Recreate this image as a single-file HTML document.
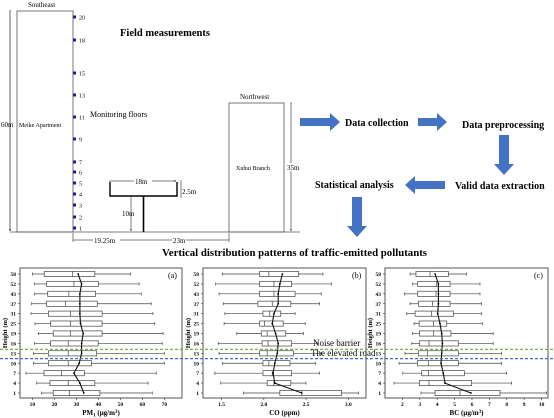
<!DOCTYPE html>
<html><head><meta charset="utf-8"><style>
body{margin:0;background:#fff;width:554px;height:418px;overflow:hidden}
svg{display:block;font-family:"Liberation Serif",serif}
</style></head><body>
<svg id="fig" width="554" height="418" viewBox="0 0 554 418" xmlns="http://www.w3.org/2000/svg">
<defs>
<marker id="ah" markerWidth="4" markerHeight="4" refX="4" refY="2" orient="auto"><path d="M0,0L4,2L0,4" fill="none" stroke="#000" stroke-width="0.6"/></marker>
</defs>
<g fill="#000" font-size="7">
<text x="28" y="7">Southeast</text>
<rect x="17" y="11" width="56" height="221" fill="none" stroke="#555" stroke-width="0.8"/>
<line x1="10" y1="12" x2="10" y2="231" stroke="#000" stroke-width="0.6" marker-start="url(#ah)" marker-end="url(#ah)"/>
<text x="1" y="127" font-size="7">60m</text>
<text x="19" y="127" font-size="6">Meike Apartment</text>
<g id="floors"></g>
<line x1="10" y1="232" x2="300" y2="232" stroke="#555" stroke-width="0.8"/>
<text x="120" y="36" font-size="10.5" font-weight="bold">Field measurements</text>
<text x="90" y="117" font-size="8">Monitoring  floors</text>
<g>
<path d="M110,182V196H177V182" fill="none" stroke="#000" stroke-width="1.4"/>
<line x1="143.5" y1="196" x2="143.5" y2="232" stroke="#000" stroke-width="1.6"/>
</g>
<line x1="111" y1="181" x2="176" y2="181" stroke="#000" stroke-width="0.5" marker-start="url(#ah)" marker-end="url(#ah)"/>
<rect x="134" y="177" width="18" height="8" fill="#fff"/>
<text x="135" y="184">18m</text>
<line x1="181" y1="180" x2="181" y2="198" stroke="#000" stroke-width="0.5"/>
<text x="182" y="194">2.5m</text>
<line x1="131" y1="197" x2="131" y2="231" stroke="#000" stroke-width="0.5" marker-end="url(#ah)"/>
<text x="122" y="216">10m</text>
<line x1="73" y1="240" x2="143" y2="240" stroke="#000" stroke-width="0.5"/>
<line x1="143" y1="240" x2="229" y2="240" stroke="#000" stroke-width="0.5"/>
<line x1="73" y1="233" x2="73" y2="242" stroke="#000" stroke-width="0.5"/>
<line x1="229" y1="233" x2="229" y2="242" stroke="#000" stroke-width="0.5"/>
<rect x="93" y="236" width="27" height="8" fill="#fff"/>
<text x="94" y="243">19.25m</text>
<rect x="172" y="236" width="14" height="8" fill="#fff"/>
<text x="173" y="243">23m</text>
<text x="240" y="99">Northwest</text>
<rect x="229" y="103" width="55" height="129" fill="none" stroke="#555" stroke-width="0.8"/>
<text x="236" y="170" font-size="6">Xuhui Branch</text>
<line x1="291" y1="104" x2="291" y2="231" stroke="#000" stroke-width="0.5" marker-start="url(#ah)" marker-end="url(#ah)"/>
<rect x="287" y="163" width="14" height="8" fill="#fff"/>
<text x="287" y="170">35m</text>
</g>
<g font-size="10" font-weight="bold" fill="#000">
<path d="M300,118H330V113L340,122L330,131V126H300Z" fill="#4472c4"/>
<text x="345" y="126">Data collection</text>
<path d="M418,118H437V113L447,122L437,131V126H418Z" fill="#4472c4"/>
<text x="462" y="128">Data preprocessing</text>
<path d="M499,135H509V164H514L504,175L494,164H499Z" fill="#4472c4"/>
<text x="455" y="189">Valid data extraction</text>
<path d="M445,181H415V176L405,185L415,194V189H445Z" fill="#4472c4"/>
<text x="315" y="188">Statistical analysis</text>
<path d="M352,197H362V226H367L357,237L347,226H352Z" fill="#4472c4"/>
<text x="162" y="256" font-size="10.8">Vertical distribution patterns of traffic-emitted pollutants</text>
</g>
<g id="charts"></g>
</svg>
<script>
const heights = ["58","52","43","37","31","25","19","16","13","10","7","4","1"];
const floorNums = [20,18,15,13,11,9,7,6,5,4,3,2,1];
const floorY = [17,40,73,95,117,139,162,172,183,194,205,217,228];

const pmLo  = [10,11,11,9.7,9.4,11.2,12.7,11,10.5,10.5,7.1,12,14.2];
const pmQ1  = [15.4,16.5,17,16.5,17.3,18.3,19.5,18.3,17.3,17.3,15.3,18,19.5];
const pmMed = [28.3,28.9,26.6,25,27.4,27.4,27.4,26.3,26.3,26.3,23.3,26.3,26.8];
const pmQ3  = [38.4,40,38.7,39.5,41.7,41.7,41.7,39.9,39.2,36.9,33.6,38.4,40.7];
const pmHi  = [54.7,58.5,59.5,64,64.8,65.6,69.4,69,70,70,66.3,62.6,64.5];
const pmMean= [30.8,32.4,31.6,31.6,31.6,31.9,33.1,32.4,32.4,31.3,28.9,31.6,33.4];
const pmTicks = [10,20,30,40,50,60,70];

const coLo  = [1.51,1.43,1.47,1.52,1.54,1.53,1.68,1.46,1.47,1.51,1.42,1.49,1.76];
const coQ1  = [1.95,1.95,1.95,1.93,1.99,1.95,1.97,1.98,1.95,1.99,1.99,2.04,2.19];
const coMed = [2.06,2.12,2.12,2.10,2.07,2.01,2.04,2.05,2.04,2.06,2.10,2.12,2.45];
const coQ3  = [2.41,2.33,2.37,2.32,2.20,2.23,2.26,2.33,2.35,2.31,2.33,2.32,2.92];
const coHi  = [2.70,2.80,2.68,2.66,2.37,2.49,2.47,2.64,2.68,2.61,2.66,2.50,3.12];
const coMean= [2.22,2.19,2.17,2.17,2.12,2.10,2.14,2.17,2.16,2.13,2.11,2.13,2.45];
const coTicks = [1.5,2.0,2.5,3.0];

const bcLo  = [2.44,2.59,2.11,2.44,2.25,2.67,2.59,2.54,2.15,1.81,2.02,1.52,3.07];
const bcQ1  = [2.78,2.88,2.88,2.92,2.73,2.96,2.98,2.98,2.92,2.86,3.11,2.98,3.88];
const bcMed = [3.59,3.97,3.93,3.74,3.68,3.78,3.78,3.53,3.45,3.49,3.49,3.53,5.31];
const bcQ3  = [4.64,4.74,4.74,4.74,4.93,4.55,4.79,5.22,5.22,5.22,5.56,5.98,7.61];
const bcHi  = [5.69,6.46,6.46,6.55,6.55,6.59,7.22,7.22,7.70,7.70,7.99,8.28,10.29];
const bcMean= [3.88,4.07,4.07,4.07,4.03,4.16,4.26,4.30,4.26,4.22,4.35,4.45,5.94];
const bcTicks = [2,3,4,5,6,7,8,9,10];

const NS="http://www.w3.org/2000/svg";
function mk(tag,attrs,parent){const e=document.createElementNS(NS,tag);for(const k in attrs)e.setAttribute(k,attrs[k]);parent.appendChild(e);return e;}

const fg=document.getElementById('floors');
floorNums.forEach((n,i)=>{
  const r=mk('rect',{x:73,y:floorY[i]-1.5,width:3,height:3,fill:'#1a1aa0'},fg);
  
  
  const t=mk('text',{x:79,y:floorY[i]+2.3,'font-size':6},fg);
  t.textContent=n;
  
  
});

const charts=document.getElementById('charts');
const top0=268,bot0=398,yFirst=274,yLast=393;
function yPos(i){return yFirst+(yLast-yFirst)*i/(heights.length-1);}

function panel(opt){
  const g=mk('g',{},charts);
  
  
  const L=opt.left,R=opt.right;
  const xs=v=>L+(v-opt.min)/(opt.max-opt.min)*(R-L);
  const fr=mk('rect',{x:L,y:top0,width:R-L,height:bot0-top0,fill:'none',stroke:'#555','stroke-width':1},g);
  
  
  heights.forEach((h,i)=>{
    const y=yPos(i);
    mk('line',{x1:L-2,x2:L,y1:y,y2:y,stroke:'#333','stroke-width':0.6},g);
    const t=mk('text',{x:L-4,y:y+2,'font-size':5.5,'text-anchor':'end','font-weight':'bold'},g);
    t.textContent=h;
    
    
    const bx=mk('g',{},g);
    
    
    const lo=xs(opt.lo[i]),q1=xs(opt.q1[i]),md=xs(opt.med[i]),q3=xs(opt.q3[i]),hi=xs(opt.hi[i]);
    mk('line',{x1:lo,x2:q1,y1:y,y2:y,stroke:'#444','stroke-width':0.7},bx);
    mk('line',{x1:q3,x2:hi,y1:y,y2:y,stroke:'#444','stroke-width':0.7},bx);
    mk('line',{x1:lo,x2:lo,y1:y-1.5,y2:y+1.5,stroke:'#444','stroke-width':0.7},bx);
    mk('line',{x1:hi,x2:hi,y1:y-1.5,y2:y+1.5,stroke:'#444','stroke-width':0.7},bx);
    mk('rect',{x:q1,y:y-2.6,width:q3-q1,height:5.2,fill:'#fff',stroke:'#444','stroke-width':0.7},bx);
    mk('line',{x1:md,x2:md,y1:y-2.6,y2:y+2.6,stroke:'#444','stroke-width':0.7},bx);
  });
  let d='';
  opt.mean.forEach((m,i)=>{d+=(i?'L':'M')+xs(m).toFixed(1)+','+yPos(i).toFixed(1);});
  const ml=mk('path',{d:d,fill:'none',stroke:'#111','stroke-width':1.1},g);
  
  
  opt.mean.forEach((m,i)=>{
    const c=mk('circle',{cx:xs(m),cy:yPos(i),r:0.9,fill:'#000'},g);
    
    
  });
  opt.ticks.forEach(v=>{
    const x=xs(v);
    mk('line',{x1:x,x2:x,y1:bot0,y2:bot0+2,stroke:'#333','stroke-width':0.6},g);
    const t=mk('text',{x:x,y:bot0+8,'font-size':5.5,'text-anchor':'middle','font-weight':'bold'},g);
    t.textContent=opt.fmt?opt.fmt(v):v;
    
    
  });
  const xt=mk('text',{x:(L+R)/2,y:bot0+17,'font-size':7,'text-anchor':'middle','font-weight':'bold'},g);
  xt.innerHTML=opt.xlabel;
  
  
  const yt=mk('text',{x:0,y:0,'font-size':6.5,'text-anchor':'middle','font-weight':'bold',transform:'translate('+(L-13)+',333) rotate(-90)'},g);
  yt.textContent='Height (m)';
  
  
  const pl=mk('text',{x:R-14,y:top0+10,'font-size':8},g);
  pl.textContent=opt.label;
  
  
}

panel({name:'pm1-boxplot',left:20,right:182,min:4.4,max:78,lo:pmLo,q1:pmQ1,med:pmMed,q3:pmQ3,hi:pmHi,mean:pmMean,ticks:pmTicks,label:'(a)',xlabel:'PM<tspan font-size="5" dy="1.5">1</tspan><tspan dy="-1.5"> (μg/m</tspan><tspan font-size="5" dy="-2">3</tspan><tspan dy="2">)</tspan>'});
panel({name:'co-boxplot',left:203,right:366,min:1.28,max:3.21,lo:coLo,q1:coQ1,med:coMed,q3:coQ3,hi:coHi,mean:coMean,ticks:coTicks,label:'(b)',xlabel:'CO (ppm)',fmt:v=>v.toFixed(1)});
panel({name:'bc-boxplot',left:385,right:548,min:1.0,max:10.37,lo:bcLo,q1:bcQ1,med:bcMed,q3:bcQ3,hi:bcHi,mean:bcMean,ticks:bcTicks,label:'(c)',xlabel:'BC (μg/m<tspan font-size="5" dy="-2">3</tspan><tspan dy="2">)</tspan>'});

const gl=mk('line',{x1:0,x2:554,y1:349.3,y2:349.3,stroke:'#6aaa30','stroke-width':1.2,'stroke-dasharray':'3,2'},charts);


const bl=mk('line',{x1:0,x2:554,y1:358.6,y2:358.6,stroke:'#3a6fd0','stroke-width':1.2,'stroke-dasharray':'3,2'},charts);


const t1=mk('text',{x:313,y:346,'font-size':9},charts);
t1.textContent='Noise barrier';


const t2=mk('text',{x:311,y:356,'font-size':9},charts);
t2.textContent='The elevated road';


</script>
</body></html>
